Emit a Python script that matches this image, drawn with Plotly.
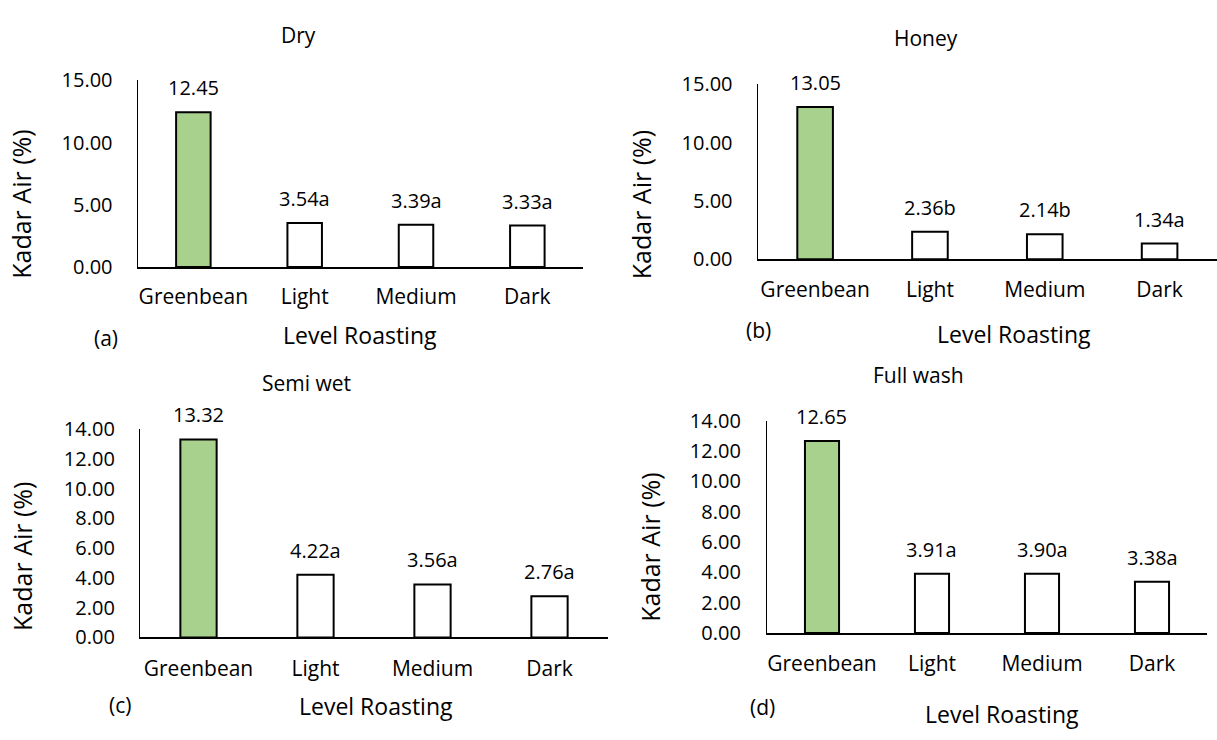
import plotly.graph_objects as go

# ---------------- data ----------------
categories = ["Greenbean", "Light", "Medium", "Dark"]
titles = ["Dry", "Honey", "Semi wet", "Full wash"]
panel_tags = ["(a)", "(b)", "(c)", "(d)"]

dry = [12.45, 3.54, 3.39, 3.33]
dry_letters = ["", "a", "a", "a"]
honey = [13.05, 2.36, 2.14, 1.34]
honey_letters = ["", "b", "b", "a"]
semi_wet = [13.32, 4.22, 3.56, 2.76]
semi_wet_letters = ["", "a", "a", "a"]
full_wash = [12.65, 3.91, 3.90, 3.38]
full_wash_letters = ["", "a", "a", "a"]

y_ticks_top = [0, 5, 10, 15]
y_ticks_bottom = [0, 2, 4, 6, 8, 10, 12, 14]

x_title = "Level Roasting"
y_title = "Kadar Air (%)"

# ---------------- layout helpers ----------------
FW, FH = 1217, 740
FONT = "Open Sans"
FS = 20
GREEN = "#A9D18E"
INK = "#000000"


def px(x):
    return x / FW


def py(y):
    return 1 - y / FH


panels = [
    dict(vals=dry, letters=dry_letters, ymax=15, ticks=y_ticks_top,
         x0=137.7, x1=583, ybot=262.5, ytop=69, xtl=10, ytl=20,
         title=(298, 22), tag=(106, 336), xt=(360, 333), yt=(21, 198)),
    dict(vals=honey, letters=honey_letters, ymax=15, ticks=y_ticks_top,
         x0=757.7, x1=1220, ybot=254.5, ytop=73, xtl=11, ytl=20,
         title=(926, 25), tag=(758, 328), xt=(1014, 332), yt=(641, 198.5)),
    dict(vals=semi_wet, letters=semi_wet_letters, ymax=14, ticks=y_ticks_bottom,
         x0=140, x1=608, ybot=647, ytop=431, xtl=11, ytl=20,
         title=(306, 383), tag=(120, 717), xt=(376, 718), yt=(22.5, 563)),
    dict(vals=full_wash, letters=full_wash_letters, ymax=14, ticks=y_ticks_bottom,
         x0=767, x1=1207, ybot=642.5, ytop=422, xtl=11, ytl=21,
         title=(918, 375), tag=(762, 719), xt=(1002, 727), yt=(650, 554)),
]

fig = go.Figure()
annotations = []
layout = {}

for i, p in enumerate(panels):
    n = i + 1
    xa = "x" if n == 1 else f"x{n}"
    ya = "y" if n == 1 else f"y{n}"
    colors = [GREEN] + ["#FFFFFF"] * (len(categories) - 1)
    fig.add_trace(go.Bar(
        x=categories, y=p["vals"], xaxis=xa, yaxis=ya,
        marker=dict(color=colors, line=dict(color=INK, width=2)),
        width=0.31, showlegend=False, hoverinfo="skip",
    ))
    for c, v, l in zip(categories, p["vals"], p["letters"]):
        annotations.append(dict(
            x=c, y=v, xref=xa, yref=ya, text=f"{v:.2f}{l}",
            showarrow=False, yanchor="middle", yshift=24.5,
            font=dict(family=FONT, size=FS, color=INK),
        ))
    key_x = "xaxis" if n == 1 else f"xaxis{n}"
    key_y = "yaxis" if n == 1 else f"yaxis{n}"
    layout[key_x] = dict(
        domain=[px(p["x0"]), min(1.0, px(p["x1"]))], anchor=ya, range=[-0.5, 3.5],
        showline=True, linecolor=INK, linewidth=2,
        ticks="outside", ticklen=p["xtl"], tickcolor="rgba(0,0,0,0)",
        showgrid=False, zeroline=False, fixedrange=True,
        tickfont=dict(family=FONT, size=21, color=INK),
    )
    layout[key_y] = dict(
        domain=[py(p["ybot"]), py(p["ytop"])], anchor=xa,
        range=[0, p["ymax"]], tickvals=p["ticks"],
        ticktext=[f"{t:.2f}" for t in p["ticks"]],
        showline=True, linecolor=INK, linewidth=1.3,
        ticks="outside", ticklen=p["ytl"], tickcolor="rgba(0,0,0,0)",
        showgrid=False, zeroline=False, fixedrange=True,
        tickfont=dict(family=FONT, size=FS, color=INK),
    )
    # texts
    annotations.append(dict(x=px(p["title"][0]), y=py(p["title"][1]), xref="paper", yref="paper",
                            text=titles[i], showarrow=False, xanchor="center", yanchor="middle",
                            font=dict(family=FONT, size=21, color=INK)))
    annotations.append(dict(x=px(p["tag"][0]), y=py(p["tag"][1]), xref="paper", yref="paper",
                            text=panel_tags[i], showarrow=False, xanchor="center", yanchor="middle",
                            font=dict(family=FONT, size=21, color=INK)))
    annotations.append(dict(x=px(p["xt"][0]), y=py(p["xt"][1]), xref="paper", yref="paper",
                            text=x_title, showarrow=False, xanchor="center", yanchor="middle",
                            font=dict(family=FONT, size=23, color=INK)))
    annotations.append(dict(x=px(p["yt"][0]), y=py(p["yt"][1]), xref="paper", yref="paper",
                            text=y_title, showarrow=False, xanchor="center", yanchor="middle",
                            textangle=-90,
                            font=dict(family=FONT, size=25, color=INK)))

fig.update_layout(
    width=FW, height=FH, margin=dict(l=0, r=0, t=0, b=0),
    paper_bgcolor="#FFFFFF", plot_bgcolor="#FFFFFF",
    annotations=annotations, showlegend=False,
    **layout,
)

fig.write_html(
    "out.html",
    config={"displayModeBar": False},
    post_script="document.body.style.margin='0px';document.body.style.overflow='hidden';",
)
